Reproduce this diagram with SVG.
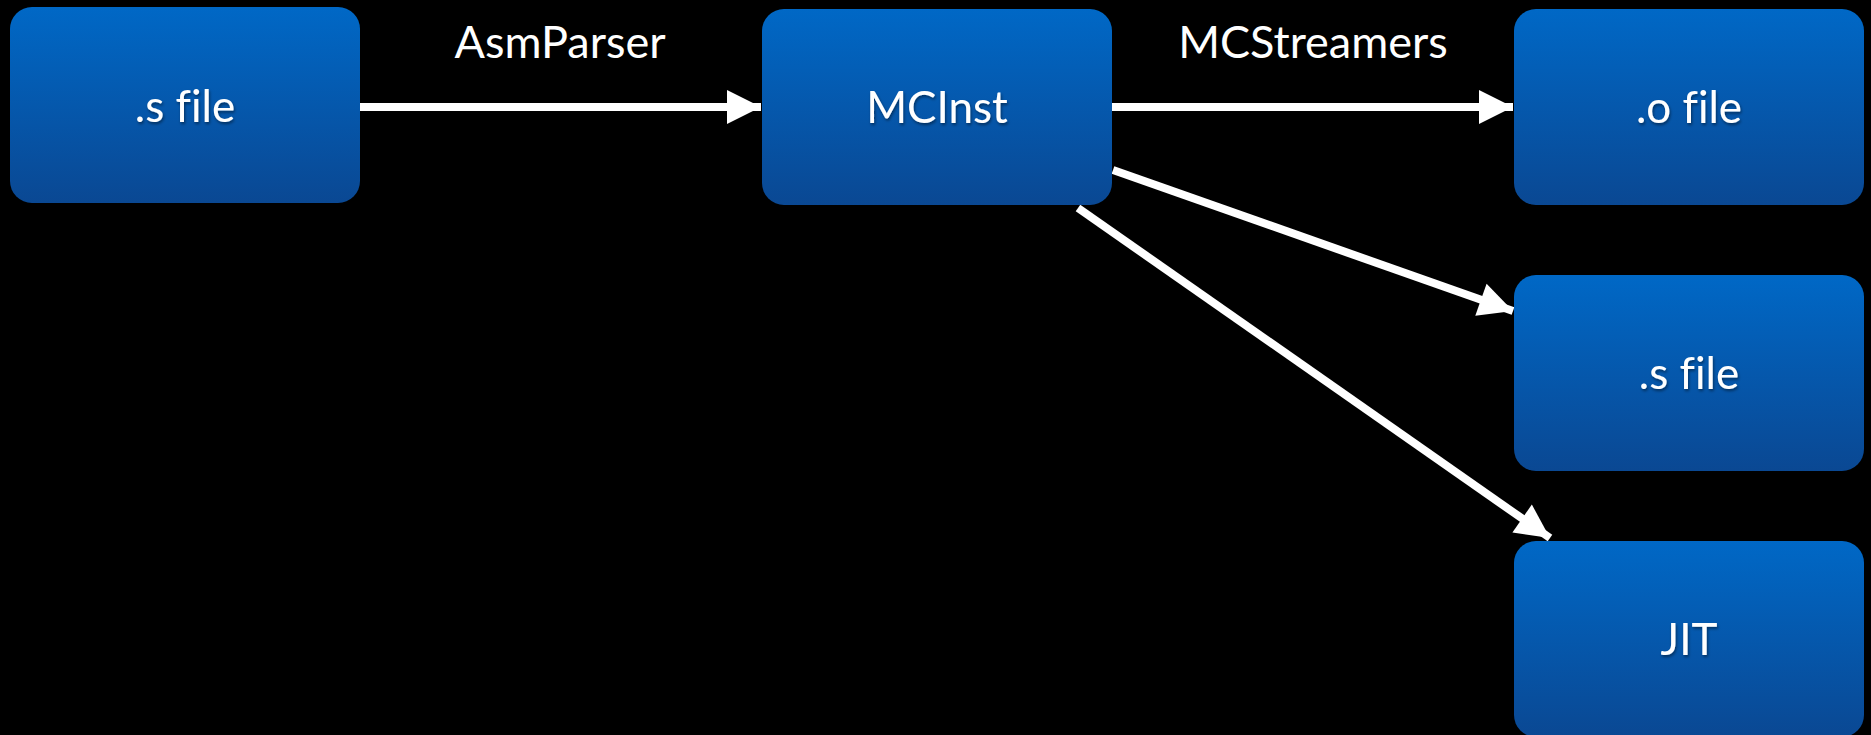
<svg xmlns="http://www.w3.org/2000/svg" width="1871" height="735" viewBox="0 0 1871 735">
<defs>
<linearGradient id="boxg" x1="0" y1="0" x2="0" y2="1">
<stop offset="0" stop-color="#0068c6"/>
<stop offset="1" stop-color="#0a4893"/>
</linearGradient>
<filter id="ts" x="-10%" y="-20%" width="120%" height="150%">
<feDropShadow dx="1" dy="2" stdDeviation="1.5" flood-color="#000" flood-opacity="0.45"/>
</filter>
<marker id="ah" markerUnits="userSpaceOnUse" markerWidth="34" markerHeight="34" viewBox="0 0 34 34" refX="34" refY="17" orient="auto" overflow="visible">
<path d="M0,0 L34,17 L0,34 Z" fill="#fff"/>
</marker>
<style>
.box{fill:url(#boxg);}
.nt{font-family:"Lato","Open Sans","Liberation Sans",sans-serif;font-size:44px;fill:#fff;text-anchor:middle;filter:url(#ts);font-variant-ligatures:none;}
.lbl{font-family:"Lato","Open Sans","Liberation Sans",sans-serif;font-size:45px;fill:#fff;text-anchor:middle;}
.edge{stroke:#fff;stroke-width:8;fill:none;marker-end:url(#ah);}
</style>
</defs>
<rect width="1871" height="735" fill="#000"/>
<g id="connectors">
<line class="edge" x1="360" y1="107" x2="761" y2="107"/>
<line class="edge" x1="1112" y1="107" x2="1513" y2="107"/>
<line class="edge" x1="1113" y1="170" x2="1513" y2="311"/>
<line class="edge" x1="1078" y1="208" x2="1550" y2="538"/>
<text class="lbl" x="560" y="58">AsmParser</text>
<text class="lbl" x="1313" y="58">MCStreamers</text>
</g>
<g id="node-sfile-in">
<rect class="box" x="10" y="7" width="350" height="196" rx="22"/>
<text class="nt" x="185" y="122">.s file</text>
</g>
<g id="node-mcinst">
<rect class="box" x="762" y="9" width="350" height="196" rx="22"/>
<text class="nt" x="937" y="123">MCInst</text>
</g>
<g id="node-ofile">
<rect class="box" x="1514" y="9" width="350" height="196" rx="22"/>
<text class="nt" x="1689" y="123">.o file</text>
</g>
<g id="node-sfile-out">
<rect class="box" x="1514" y="275" width="350" height="196" rx="22"/>
<text class="nt" x="1689" y="389">.s file</text>
</g>
<g id="node-jit">
<rect class="box" x="1514" y="541" width="350" height="196" rx="22"/>
<text class="nt" x="1689" y="655">JIT</text>
</g>
</svg>
